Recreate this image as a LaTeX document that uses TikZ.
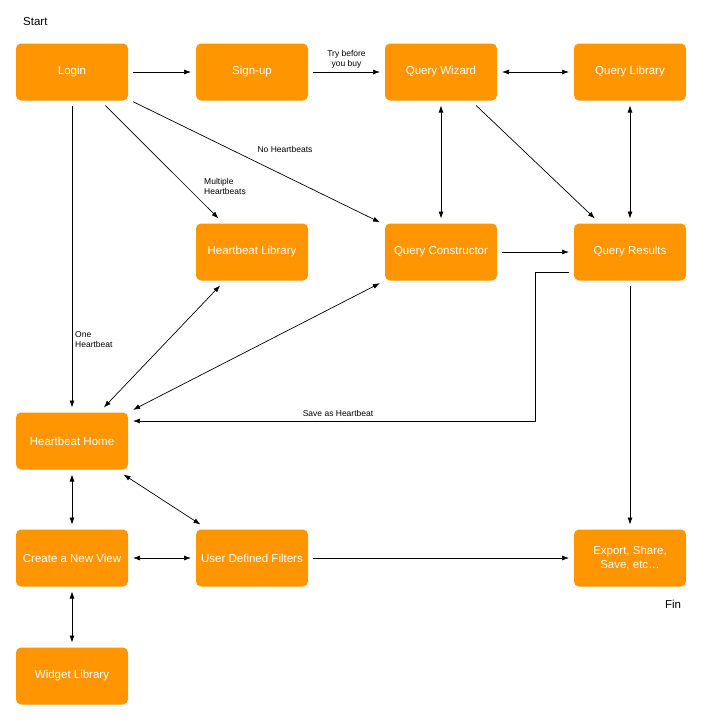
\documentclass[tikz,border=0pt]{standalone}
\usepackage{fontspec}
\setmainfont{Liberation Sans}
\usetikzlibrary{arrows.meta}
\definecolor{boxor}{HTML}{FF9500}
\begin{document}
\begin{tikzpicture}[x=1pt,y=-1pt,
  box/.style={fill=boxor,draw=none,rounded corners=5pt,minimum width=112pt,minimum height=57pt,text=white,font=\fontsize{11.5}{13}\selectfont,inner sep=0pt,outer sep=5pt},
  arr/.style={-{Latex[length=7pt,width=5pt]},line width=0.7pt},
  darr/.style={{Latex[length=7pt,width=5pt]}-{Latex[length=7pt,width=5pt]},line width=0.7pt},
  lab/.style={font=\fontsize{8.5}{10}\selectfont,align=left,inner sep=1pt}]
\useasboundingbox[fill=white] (0,0) rectangle (701,720);
\node[box] (login) at (72,72) {Login};
\node[box] (signup) at (252,72) {Sign-up};
\node[box] (qw) at (441,72) {Query Wizard};
\node[box] (ql) at (630,72) {Query Library};
\node[box] (hl) at (252,252) {Heartbeat Library};
\node[box] (qc) at (441,252) {Query Constructor};
\node[box] (qr) at (630,252) {Query Results};
\node[box] (hh) at (72,441) {Heartbeat Home};
\node[box] (cnv) at (72,558) {Create a New View};
\node[box] (udf) at (252,558) {User Defined Filters};
\node[box] (exp) at (630,558) {\shortstack{Export, Share,\\Save, etc\dots}};
\node[box] (wl) at (72,676) {Widget Library};
\node[lab,font=\fontsize{11.5}{13}\selectfont,anchor=west] (start) at (22,22) {Start};
\node[lab,font=\fontsize{11.5}{13}\selectfont] (fin) at (673,604) {Fin};

\draw[arr] (login) -- (signup);
\draw[arr] (signup) -- node[lab,above,align=center,yshift=2pt]{Try before\\you buy} (qw);
\draw[darr] (qw) -- (ql);
\draw[arr] (login) -- (hl);
\node[lab] (mh) at (225,186) {Multiple\\Heartbeats};
\draw[arr] (login) -- (qc);
\node[lab] (nh) at (285,149) {No Heartbeats};
\draw[arr] (login) -- (hh);
\node[lab,anchor=west] (oh) at (74,340) {One\\Heartbeat};
\draw[darr] (qw) -- (qc);
\draw[arr] (qw) -- (qr);
\draw[darr] (ql) -- (qr);
\draw[arr] (qc) -- (qr);
\draw[darr] (hl) -- (hh);
\draw[darr] (qc) -- (hh);
\draw[arr] ([yshift=-20pt]qr.west) -| ++(-34,149) -- ([yshift=20pt]hh.east|-hh.east);
\node[lab] (sah) at (338,413) {Save as Heartbeat};
\draw[arr] (qr) -- (exp);
\draw[darr] (hh) -- (cnv);
\draw[darr] (hh) -- (udf);
\draw[darr] (cnv) -- (udf);
\draw[arr] (udf) -- (exp);
\draw[darr] (cnv) -- (wl);
\end{tikzpicture}
\end{document}
